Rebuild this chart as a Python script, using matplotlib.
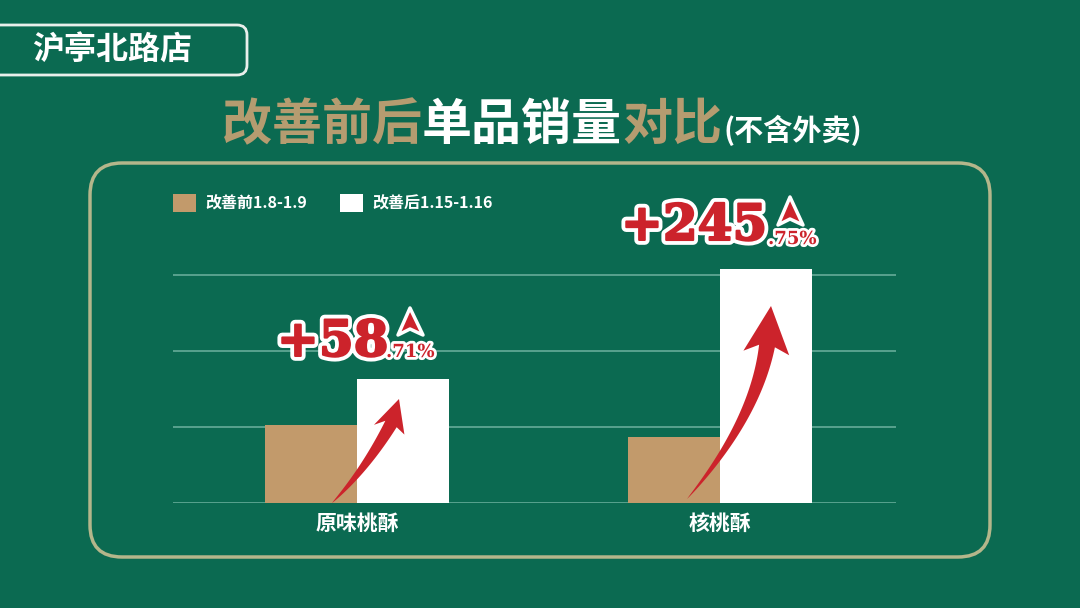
import numpy as np
import matplotlib
matplotlib.use('Agg')
import matplotlib.pyplot as plt
import matplotlib.patheffects as pe
from matplotlib.patches import FancyBboxPatch, Polygon

plt.rcParams['font.family'] = ['Noto Sans CJK SC', 'DejaVu Sans']

# data
categories = ['原味桃酥', '核桃酥']
before = [1.02, 0.87]
after = [1.63, 3.08]
legend_labels = ['改善前1.8-1.9', '改善后1.15-1.16']
growth_main = ['+58', '+245']
growth_dec = ['.71%', '.75%']

GREEN = '#0b6a51'
TAN = '#c29a6b'
TITLE_TAN = '#b59c70'
RED = '#cc232b'
GRID = '#66ab99'

fig = plt.figure(figsize=(10.8, 6.08), dpi=100)
fig.patch.set_facecolor(GREEN)

# background layer in pixel coords
bg = fig.add_axes([0, 0, 1, 1], zorder=0)
bg.set_xlim(0, 1080)
bg.set_ylim(608, 0)
bg.axis('off')

# store name box
bg.add_patch(FancyBboxPatch((-20, 25), 267, 50, boxstyle='round,pad=0,rounding_size=10',
                            fc='none', ec='#e9efeb', lw=2))
bg.text(32, 51, '沪亭北路店', color='white', fontsize=23, fontweight='bold', va='center')

# title
title_parts = [('改善前后', TITLE_TAN, 36, 222), ('单品销量', 'white', 36, 422),
               ('对比', TITLE_TAN, 36, 622), ('(不含外卖)', 'white', 21, 724)]
for s, c, fs, x in title_parts:
    bg.text(x, 140, s, color=c, fontsize=fs, fontweight='bold', va='baseline')

# panel
bg.add_patch(FancyBboxPatch((90, 163), 900, 394, boxstyle='round,pad=0,rounding_size=32',
                            fc='none', ec='#b4b68b', lw=2.5))

# chart
ax = fig.add_axes([173 / 1080, (608 - 502.7) / 608, 723 / 1080, 250 / 608], zorder=1)
ax.patch.set_alpha(0)
x = np.arange(len(categories))
w = 0.2534
ax.bar(x - w / 2, before, w, color=TAN, label=legend_labels[0], zorder=2)
ax.bar(x + w / 2, after, w, color='white', label=legend_labels[1], zorder=2)
ax.set_xlim(-0.507, 1.485)
ax.set_ylim(0, 3.3)
ax.set_yticks([0, 1, 2, 3])
ax.yaxis.grid(True, color=GRID, lw=1.2)
ax.set_axisbelow(True)
ax.tick_params(axis='y', length=0, labelleft=False)
ax.set_xticks(x, categories)
ax.tick_params(axis='x', length=0, pad=7, labelsize=15, labelcolor='white')
for lab in ax.get_xticklabels():
    lab.set_fontweight('bold')
for sp in ax.spines.values():
    sp.set_visible(False)

leg = ax.legend(loc='center left', bbox_to_anchor=(173 / 1080, 1 - 203 / 608),
                bbox_transform=fig.transFigure, ncol=2, frameon=False, borderpad=0,
                fontsize=11.5, handlelength=1.44, handleheight=1.44,
                handletextpad=0.56, columnspacing=2.1, borderaxespad=0)
for t in leg.get_texts():
    t.set_color('white')
    t.set_fontweight('bold')

# overlay: arrows and growth labels
top = fig.add_axes([0, 0, 1, 1], zorder=2)
top.set_xlim(0, 1080)
top.set_ylim(608, 0)
top.axis('off')


def curved_arrow(p0, p1, p2, tip, shaft_w, head_w, notch):
    p0, p1, p2, tip = map(np.array, (p0, p1, p2, tip))
    t = np.linspace(0, 1, 60)[:, None]
    pts = (1 - t) ** 2 * p0 + 2 * (1 - t) * t * p1 + t ** 2 * p2
    tan = 2 * (1 - t) * (p1 - p0) + 2 * t * (p2 - p1)
    tan = tan / np.linalg.norm(tan, axis=1)[:, None]
    nrm = np.column_stack([-tan[:, 1], tan[:, 0]])
    hw = shaft_w / 2 * t[:, 0] ** 0.8
    left = pts + nrm * hw[:, None]
    right = pts - nrm * hw[:, None]
    d = (tip - p2) / np.linalg.norm(tip - p2)
    n = np.array([-d[1], d[0]])
    lb = p2 + n * head_w / 2 - d * notch
    rb = p2 - n * head_w / 2 - d * notch
    poly = np.vstack([left, lb, tip, rb, right[::-1]])
    top.add_patch(Polygon(poly, closed=True, fc=RED, ec='none'))


curved_arrow((332, 503), (365, 470), (391, 424), (399, 399), 13, 32, 6)
curved_arrow((687, 499), (755, 420), (767, 346), (771, 306), 16, 46, 7)

big_stroke = [pe.withStroke(linewidth=7, foreground='white'),
              pe.withStroke(linewidth=1.5, foreground=RED)]
small_stroke = [pe.withStroke(linewidth=4, foreground='white')]
main_pos = [(277, 356), (621, 240)]
dec_pos = [(386, 357), (768, 244)]
for i in range(2):
    top.text(*main_pos[i], growth_main[i], color=RED, fontsize=36, fontweight='bold',
             family='DejaVu Serif', va='baseline', path_effects=big_stroke)
    top.text(*dec_pos[i], growth_dec[i], color=RED, fontsize=13, fontweight='bold',
             family='DejaVu Serif', va='baseline', path_effects=small_stroke)

tri = [[(410, 308), (398, 335), (410, 329), (423, 335)],
       [(790, 197), (778, 225), (790, 219), (803, 225)]]
for pts in tri:
    top.add_patch(Polygon(pts, closed=True, fc=RED, ec='white', lw=2.5, joinstyle='round'))

fig.savefig('out.png', dpi=100, facecolor=GREEN)
